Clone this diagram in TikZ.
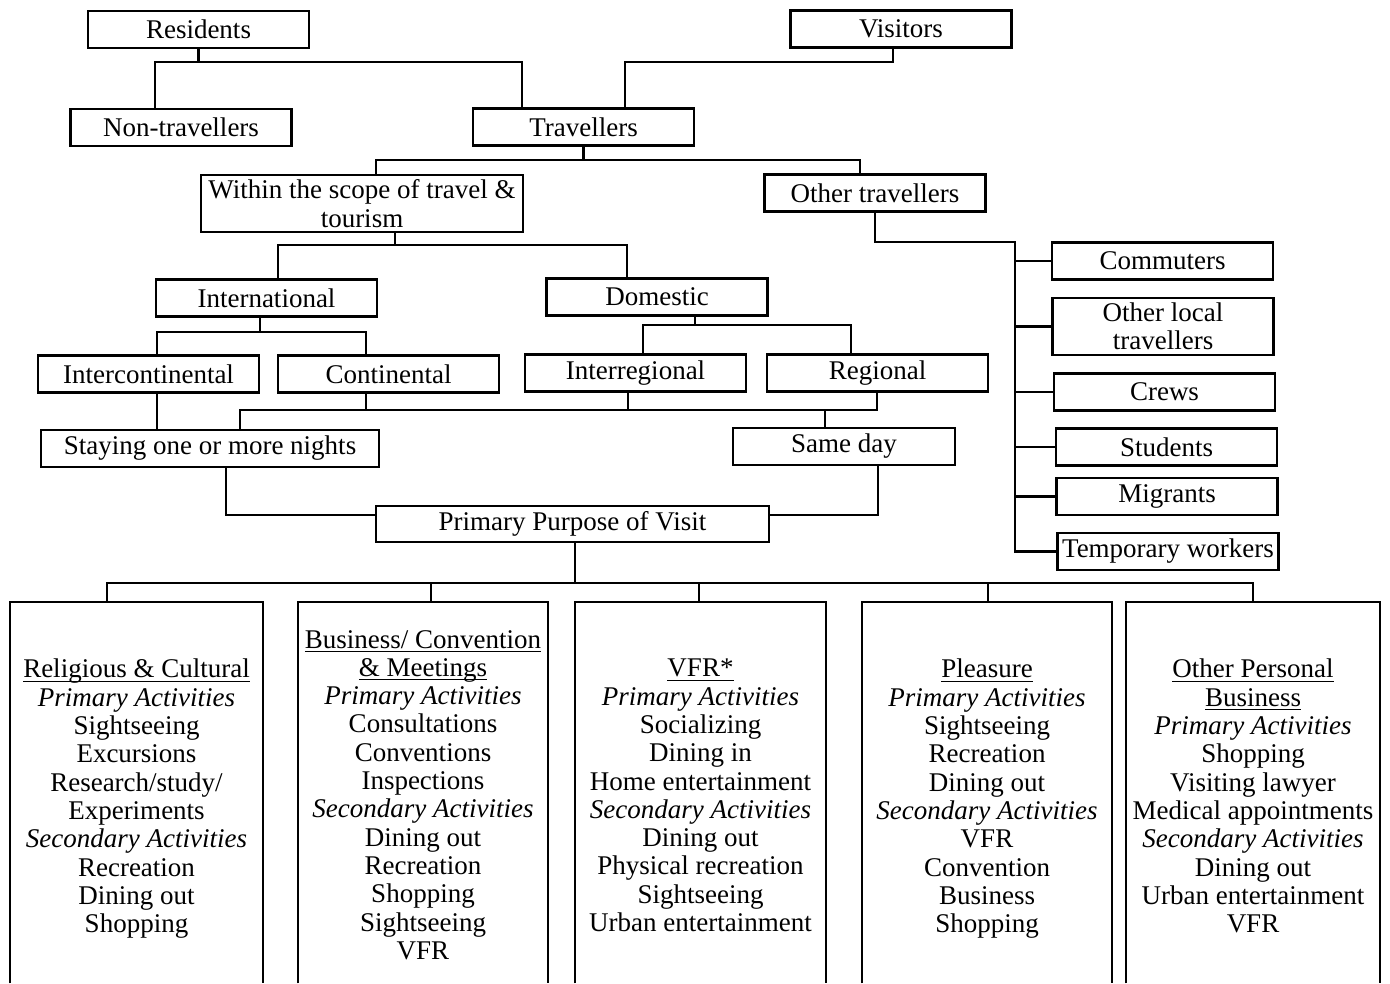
\documentclass[tikz,border=0pt]{standalone}
\usepackage{fontspec}
\setmainfont{Liberation Serif}
\usepackage{tikz}
\newcommand{\headline}[1]{\underline{\raisebox{0pt}[\height][1.5pt]{#1}}}

\begin{document}
\begin{tikzpicture}[x=1pt, y=-1pt,
    box/.style={draw, line width=2.4pt, minimum width=221pt, minimum height=37pt,
        inner sep=0pt, align=center, font=\fontsize{27}{28.3}\selectfont},
    link/.style={line width=2.4pt},
    purposebox/.style={minimum width=#1, minimum height=381pt, anchor=north, inner sep=0pt},
    list/.style={anchor=north, inner sep=0pt, align=center, font=\fontsize{27}{28.3}\selectfont}]
    \useasboundingbox (0,0) rectangle (1390,983);

    % Residents and visitors
    \node[box] (res) at (198.5,29.5) {Residents};
    \node[box] (vis) at (901,29) {Visitors};
    \node[box] (nontrav) at (181,127.5) {Non-travellers};
    \node[box] (trav) at (583.5,127) {Travellers};
    \coordinate (resj) at (198.5,62);
    \coordinate (visj) at (893,62);
    \draw[link] (res.south) -- (resj);
    \draw[link] (nontrav.north -| 155,0) |- (resj) -| (trav.north -| 522,0);
    \draw[link] (vis.south -| 893,0) -- (visj) -| (trav.north -| 625,0);

    % Travellers
    \node[box, minimum width=322pt, minimum height=57pt] (scope) at (362,203.5)
        {Within the scope of travel \&\\tourism};
    \node[box] (other) at (875,193) {Other travellers};
    \coordinate (travj) at (583.5,160);
    \draw[link] (trav.south) -- (travj);
    \draw[link] (scope.north -| 376,0) |- (travj) -| (other.north -| 860,0);

    % International and domestic
    \node[box] (intl) at (266.5,298) {International};
    \node[box] (dom) at (657,297) {Domestic};
    \coordinate (scopej) at (395,245);
    \draw[link] (scope.south -| 395,0) -- (scopej);
    \draw[link] (intl.north -| 278,0) |- (scopej) -| (dom.north -| 627,0);

    \node[box] (intercont) at (148.5,374) {Intercontinental};
    \node[box] (cont) at (388.5,374) {Continental};
    \node[box] (interreg) at (635.5,373) {Interregional};
    \node[box] (reg) at (877.5,373) {Regional};
    \coordinate (intlj) at (260,332);
    \coordinate (domj) at (695,325);
    \draw[link] (intl.south -| 260,0) -- (intlj);
    \draw[link] (intercont.north -| 157,0) |- (intlj) -| (cont.north -| 366,0);
    \draw[link] (dom.south -| 695,0) -- (domj);
    \draw[link] (interreg.north -| 643,0) |- (domj) -| (reg.north -| 851,0);

    % Length of stay
    \node[box, minimum width=338pt] (stay) at (210,448.5) {Staying one or more nights};
    \node[box, minimum width=222pt] (same) at (844,446.5) {Same day};
    \coordinate (tripj) at (240,410);
    \draw[link] (intercont.south -| 157,0) -- (stay.north -| 157,0);
    \draw[link] (stay.north -| 240,0) -- (tripj) -| (reg.south -| 877,0);
    \draw[link] (cont.south -| 366,0) -- (tripj -| 366,0);
    \draw[link] (interreg.south -| 628,0) -- (tripj -| 628,0);
    \draw[link] (same.north -| 825,0) -- (tripj -| 825,0);

    % Primary purpose
    \node[box, minimum width=393pt, minimum height=36pt] (purp) at (572.5,524) {Primary Purpose of Visit};
    \draw[link] (stay.south -| 226,0) |- ([yshift=9pt]purp.west);
    \draw[link] (same.south -| 878,0) |- ([yshift=9pt]purp.east);

    % Other travellers
    \node[box] (comm) at (1162.5,261) {Commuters};
    \node[box, minimum height=57pt] (local) at (1163,326.5) {Other local\\travellers};
    \node[box] (crews) at (1164.5,392) {Crews};
    \node[box] (stud) at (1166.5,447) {Students};
    \node[box] (migr) at (1167,496.5) {Migrants};
    \node[box] (temp) at (1168,551.5) {Temporary workers};
    \coordinate (otherj) at (1015,242);
    \draw[link] (other.south) |- (otherj) -- (otherj |- temp.west) -- (temp.west);
    \foreach \name in {comm,local,crews,stud,migr}
        \draw[link] (otherj |- \name.west) -- (\name.west);

    % Purpose of visit boxes
    \foreach \name/\cx/\w in {rel/136.5/253, bus/423/250, vfr/700.5/251, plea/987/250, opb/1253/254}
        \node[purposebox=\w pt] (\name) at (\cx,602) {};
    \foreach \name in {rel,bus,vfr,plea,opb}
        \draw[link] (\name.south west) |- (\name.north east) -- (\name.south east);
    \coordinate (purpj) at (575,583);
    \draw[link] (purp.south -| 575,0) -- (purpj);
    \draw[link] (rel.north -| 107,0) |- (purpj) -| (opb.north -| 1253,0);
    \foreach \name/\tx in {bus/431, vfr/699, plea/988}
        \draw[link] (\name.north -| \tx,0) -- (purpj -| \tx,0);

    \node[list] (reltext) at (136.5,659) {\headline{Religious \& Cultural}\\\textit{Primary Activities}\\
        Sightseeing\\Excursions\\Research/study/\\Experiments\\\textit{Secondary Activities}\\
        Recreation\\Dining out\\Shopping};
    \node[list] (bustext) at (423,630) {\headline{Business/ Convention}\\\headline{\& Meetings}\\
        \textit{Primary Activities}\\Consultations\\Conventions\\Inspections\\\textit{Secondary Activities}\\
        Dining out\\Recreation\\Shopping\\Sightseeing\\VFR};
    \node[list] (vfrtext) at (700.5,659) {\headline{VFR*}\\\textit{Primary Activities}\\
        Socializing\\Dining in\\Home entertainment\\\textit{Secondary Activities}\\
        Dining out\\Physical recreation\\Sightseeing\\Urban entertainment};
    \node[list] (pleatext) at (987,659) {\headline{Pleasure}\\\textit{Primary Activities}\\
        Sightseeing\\Recreation\\Dining out\\\textit{Secondary Activities}\\
        VFR\\Convention\\Business\\Shopping};
    \node[list] (opbtext) at (1253,659) {\headline{Other Personal}\\\headline{Business}\\
        \textit{Primary Activities}\\Shopping\\Visiting lawyer\\Medical appointments\\
        \textit{Secondary Activities}\\Dining out\\Urban entertainment\\VFR};
\end{tikzpicture}
\end{document}
